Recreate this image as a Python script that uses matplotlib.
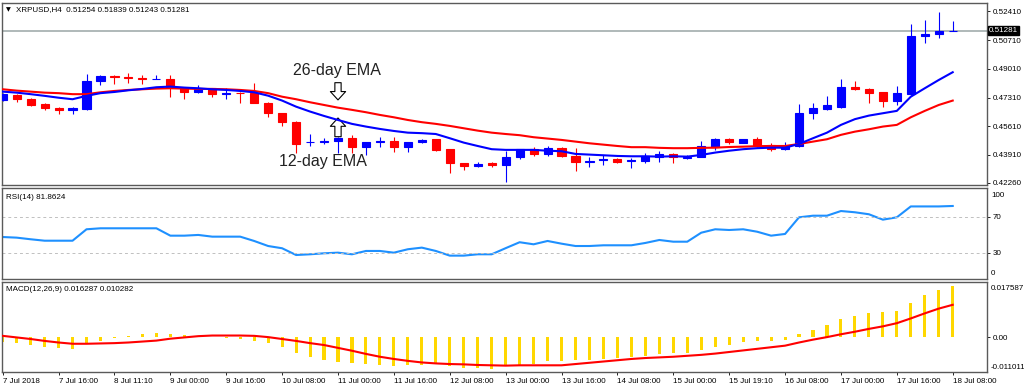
import matplotlib.pyplot as plt
from matplotlib.transforms import blended_transform_factory

plt.rcParams['font.family'] = ['Liberation Sans', 'DejaVu Sans']

# XRPUSD H4 candles (7 Jul 2018 -> 18 Jul 08:00)
opens = [0.4717, 0.4746, 0.4721, 0.4693, 0.4668, 0.4658, 0.4662, 0.4829, 0.4856, 0.4851,
         0.4845, 0.4839, 0.4840, 0.4786, 0.4762, 0.4786, 0.4753, 0.4759, 0.4756, 0.4697,
         0.4638, 0.4588, 0.4467, 0.4468, 0.4476, 0.4490, 0.4440, 0.4469, 0.4474, 0.4440,
         0.4466, 0.4484, 0.4425, 0.4342, 0.4326, 0.4346, 0.4332, 0.4377, 0.4425, 0.4395,
         0.4431, 0.4385, 0.4352, 0.4360, 0.4367, 0.4355, 0.4358, 0.4377, 0.4397, 0.4375,
         0.4381, 0.4440, 0.4486, 0.4464, 0.4488, 0.4450, 0.4427, 0.4446, 0.4638, 0.4664,
         0.4677, 0.4792, 0.4782, 0.4762, 0.4713, 0.4752, 0.5098, 0.5106, 0.51254]
highs = [0.4756, 0.4750, 0.4727, 0.4701, 0.4677, 0.4677, 0.4871, 0.4865, 0.4865, 0.4875,
         0.4865, 0.4865, 0.4865, 0.4790, 0.4806, 0.4790, 0.4786, 0.4764, 0.4816, 0.4703,
         0.4642, 0.4592, 0.4515, 0.4490, 0.4496, 0.4509, 0.4470, 0.4500, 0.4496, 0.4468,
         0.4488, 0.4488, 0.4429, 0.4346, 0.4350, 0.4352, 0.4417, 0.4429, 0.4440, 0.4443,
         0.4440, 0.4431, 0.4377, 0.4391, 0.4371, 0.4371, 0.4405, 0.4415, 0.4405, 0.4391,
         0.4474, 0.4490, 0.4492, 0.4488, 0.4500, 0.4460, 0.4470, 0.4693, 0.4697, 0.4740,
         0.4839, 0.4829, 0.4786, 0.4766, 0.4800, 0.5167, 0.5191, 0.5240, 0.51839]
lows = [0.4711, 0.4707, 0.4681, 0.4658, 0.4632, 0.4634, 0.4658, 0.4806, 0.4811, 0.4816,
        0.4811, 0.4839, 0.4733, 0.4721, 0.4756, 0.4733, 0.4723, 0.4701, 0.4699, 0.4614,
        0.4565, 0.4405, 0.4444, 0.4456, 0.4400, 0.4405, 0.4393, 0.4437, 0.4411, 0.4407,
        0.4460, 0.4417, 0.4286, 0.4302, 0.4318, 0.4320, 0.4233, 0.4366, 0.4385, 0.4385,
        0.4379, 0.4298, 0.4322, 0.4332, 0.4342, 0.4312, 0.4346, 0.4351, 0.4346, 0.4366,
        0.4377, 0.4421, 0.4458, 0.4460, 0.4440, 0.4416, 0.4421, 0.4440, 0.4602, 0.4658,
        0.4671, 0.4778, 0.4697, 0.4677, 0.4687, 0.4746, 0.5053, 0.5082, 0.51243]
closes = [0.4750, 0.4721, 0.4687, 0.4668, 0.4658, 0.4668, 0.4829, 0.4859, 0.4853, 0.4847,
          0.4841, 0.4842, 0.4792, 0.4766, 0.4780, 0.4752, 0.4757, 0.4755, 0.4701, 0.4641,
          0.4588, 0.4456, 0.4470, 0.4474, 0.4490, 0.4437, 0.4466, 0.4474, 0.4440, 0.4466,
          0.4480, 0.4421, 0.4342, 0.4326, 0.4340, 0.4330, 0.4381, 0.4425, 0.4395, 0.4431,
          0.4385, 0.4348, 0.4358, 0.4366, 0.4348, 0.4360, 0.4385, 0.4395, 0.4377, 0.4381,
          0.4444, 0.4484, 0.4466, 0.4484, 0.4450, 0.4427, 0.4446, 0.4638, 0.4671, 0.4687,
          0.4792, 0.4780, 0.4760, 0.4713, 0.4756, 0.5098, 0.5106, 0.5125, 0.51281]

ema12 = [0.4766, 0.4760, 0.4751, 0.4741, 0.4730, 0.4721, 0.4741, 0.4757, 0.4764, 0.4774,
         0.4782, 0.4792, 0.4796, 0.4790, 0.4786, 0.4780, 0.4776, 0.4770, 0.4762, 0.4742,
         0.4713, 0.4677, 0.4648, 0.4622, 0.4598, 0.4575, 0.4559, 0.4545, 0.4533, 0.4523,
         0.4520, 0.4515, 0.4490, 0.4464, 0.4444, 0.4425, 0.4421, 0.4421, 0.4421, 0.4416,
         0.4413, 0.4397, 0.4393, 0.4389, 0.4385, 0.4383, 0.4383, 0.4381, 0.4383, 0.4381,
         0.4391, 0.4405, 0.4416, 0.4425, 0.4431, 0.4434, 0.4434, 0.4456, 0.4490, 0.4523,
         0.4569, 0.4603, 0.4624, 0.4638, 0.4652, 0.4736, 0.4786, 0.4835, 0.4881]
ema26 = [0.4780, 0.4772, 0.4766, 0.4760, 0.4757, 0.4751, 0.4751, 0.4762, 0.4770, 0.4776,
         0.4780, 0.4784, 0.4786, 0.4784, 0.4782, 0.4782, 0.4780, 0.4776, 0.4770, 0.4757,
         0.4736, 0.4721, 0.4703, 0.4687, 0.4671, 0.4658, 0.4644, 0.4628, 0.4614, 0.4598,
         0.4585, 0.4575, 0.4563, 0.4549, 0.4535, 0.4523, 0.4515, 0.4508, 0.4496, 0.4488,
         0.4480, 0.4470, 0.4460, 0.4452, 0.4444, 0.4437, 0.4437, 0.4433, 0.4431, 0.4431,
         0.4433, 0.4434, 0.4438, 0.4440, 0.4443, 0.4444, 0.4444, 0.4456, 0.4470, 0.4484,
         0.4510, 0.4529, 0.4543, 0.4559, 0.4569, 0.4614, 0.4652, 0.4687, 0.4713]

rsi14 = [47.4, 46.7, 44.9, 43.3, 43.3, 43.3, 56.0, 57.1, 57.1, 57.1,
         57.1, 57.1, 48.9, 48.9, 49.7, 47.8, 47.8, 47.8, 43.0, 37.4,
         34.9, 27.4, 28.2, 29.3, 30.0, 28.2, 31.9, 31.9, 30.0, 33.8,
         35.6, 31.9, 26.7, 26.7, 28.2, 28.2, 35.0, 41.6, 39.3, 43.0,
         40.0, 37.4, 37.4, 38.2, 38.2, 38.2, 40.8, 44.1, 42.2, 42.2,
         52.2, 56.0, 55.2, 56.0, 53.3, 48.9, 50.8, 69.3, 71.1, 71.1,
         76.3, 74.9, 72.7, 66.7, 69.3, 81.4, 81.4, 81.4, 81.9]

macd_hist = [-0.0016, -0.0018, -0.0024, -0.0029, -0.0032, -0.0035, -0.0020, -0.0012, -0.0003, 0.0003,
             0.0011, 0.0014, 0.0011, 0.0009, 0.0006, 0.0002, -0.0002, -0.0004, -0.0010, -0.0018,
             -0.0029, -0.0050, -0.0061, -0.0071, -0.0077, -0.0082, -0.0085, -0.0087, -0.0089, -0.0088,
             -0.0086, -0.0085, -0.0090, -0.0096, -0.0097, -0.0100, -0.0090, -0.0090, -0.0084, -0.0074,
             -0.0073, -0.0071, -0.0071, -0.0068, -0.0065, -0.0063, -0.0058, -0.0052, -0.0050, -0.0048,
             -0.0039, -0.0029, -0.0023, -0.0014, -0.0011, -0.0010, -0.0007, 0.0012, 0.0025, 0.0038,
             0.0059, 0.0069, 0.0078, 0.0081, 0.0083, 0.0110, 0.0133, 0.0150, 0.0163]
macd_signal = [0.0005, 0.0000, -0.0005, -0.0011, -0.0016, -0.0020, -0.0020, -0.0019, -0.0018, -0.0016,
               -0.0013, -0.0010, -0.0004, 0.0000, 0.0004, 0.0006, 0.0006, 0.0006, 0.0005, 0.0001,
               -0.0005, -0.0011, -0.0018, -0.0024, -0.0033, -0.0042, -0.0052, -0.0061, -0.0068, -0.0074,
               -0.0079, -0.0082, -0.0084, -0.0085, -0.0087, -0.0088, -0.0089, -0.0088, -0.0088, -0.0088,
               -0.0088, -0.0084, -0.0080, -0.0076, -0.0072, -0.0068, -0.0065, -0.0063, -0.0061, -0.0058,
               -0.0055, -0.0051, -0.0046, -0.0041, -0.0036, -0.0031, -0.0026, -0.0016, -0.0007, 0.0001,
               0.0010, 0.0018, 0.0027, 0.0035, 0.0045, 0.0060, 0.0076, 0.0091, 0.0103]

time_labels = ["7 Jul 2018", "7 Jul 16:00", "8 Jul 11:10", "9 Jul 00:00", "9 Jul 16:00",
               "10 Jul 08:00", "11 Jul 00:00", "11 Jul 16:00", "12 Jul 08:00", "13 Jul 00:00",
               "13 Jul 16:00", "14 Jul 08:00", "15 Jul 00:00", "15 Jul 19:10", "16 Jul 08:00",
               "17 Jul 00:00", "17 Jul 16:00", "18 Jul 08:00"]
price_ticks = [0.42260, 0.43910, 0.45610, 0.47310, 0.49010, 0.50710, 0.52410]

FRAME = '#5a5a5a'
SMALL = 5.8

fig = plt.figure(figsize=(10.24, 3.91), dpi=100)
ax_p = fig.add_axes([0.00195, 0.5256, 0.962, 0.4667])
ax_r = fig.add_axes([0.00195, 0.2857, 0.962, 0.2335], sharex=ax_p)
ax_m = fig.add_axes([0.00195, 0.0478, 0.962, 0.2317], sharex=ax_p)

xs = list(range(len(closes)))

for ax in (ax_p, ax_r, ax_m):
    for s in ax.spines.values():
        s.set_color(FRAME)
        s.set_linewidth(1.0)
    ax.yaxis.tick_right()
    ax.tick_params(axis='y', length=2.5, width=0.6, pad=1.5, labelsize=SMALL, colors='black')
    ax.tick_params(axis='x', length=0, labelbottom=False)

# --- price panel: candles + EMAs
for i in xs:
    col = '#0000ff' if closes[i] >= opens[i] else '#ff0000'
    ax_p.vlines(i, lows[i], highs[i], color=col, lw=0.8, zorder=2)
    ax_p.bar(i, closes[i] - opens[i], bottom=opens[i], width=0.58, color=col,
             edgecolor=col, linewidth=0.8, zorder=3)

ax_p.plot(xs, ema26, color='#ff0000', lw=1.5, zorder=4)
ax_p.plot(xs, ema12, color='#0000ff', lw=1.5, zorder=4)
ax_p.axhline(closes[-1], color='#9aa6a6', lw=1.1, zorder=1)

ax_p.set_xlim(-0.05, 70.46)
ax_p.set_ylim(0.4210, 0.5291)
ax_p.set_yticks(price_ticks)
ax_p.set_yticklabels([f"{t:.5f}" for t in price_ticks])

tr = blended_transform_factory(ax_p.transAxes, ax_p.transData)
ax_p.text(1.002, closes[-1], f"{closes[-1]:.5f}", transform=tr, color='white', fontsize=SMALL,
          va='center', ha='left', bbox=dict(fc='black', ec='black', pad=0.8), zorder=6,
          clip_on=False)

ax_p.text(0.004, 0.965, "\u25bc", transform=ax_p.transAxes, fontsize=4.5, va='center',
          family='DejaVu Sans')
ax_p.text(0.0145, 0.965, "XRPUSD,H4  0.51254 0.51839 0.51243 0.51281",
          transform=ax_p.transAxes, fontsize=SMALL, va='center')

# EMA annotations
ax_p.text(23.9, 0.4889, "26-day EMA", fontsize=11.5, ha='center', va='center', color='#222222')
ax_p.text(22.9, 0.4355, "12-day EMA", fontsize=11.5, ha='center', va='center', color='#222222')
arrow = dict(arrowstyle='simple,head_length=6,head_width=11,tail_width=4.5',
             fc='white', ec='black', lw=0.8, mutation_scale=1, shrinkA=0, shrinkB=0)
ax_p.annotate("", xy=(24, 0.4717), xytext=(24, 0.4819), arrowprops=arrow)
ax_p.annotate("", xy=(24, 0.4610), xytext=(24, 0.4499), arrowprops=arrow)

# --- RSI panel
ax_r.plot(xs, rsi14, color='#1e90ff', lw=1.5)
for lvl in (70, 30):
    ax_r.axhline(lvl, color='#c0c0c0', lw=0.7, ls=(0, (3, 3)))
ax_r.set_ylim(0.4, 101.9)
ax_r.set_yticks([70, 30])
ax_r.set_yticklabels(["70", "30"])
ax_r.text(1.004, 0.923, "100", transform=ax_r.transAxes, fontsize=SMALL, va='center')
ax_r.text(1.004, 0.058, "0", transform=ax_r.transAxes, fontsize=SMALL, va='center')
ax_r.text(0.0045, 0.9, "RSI(14) 81.8624", transform=ax_r.transAxes, fontsize=SMALL, va='center')

# --- MACD panel
ax_m.bar(xs, macd_hist, width=0.22, color='#ffd700', zorder=2)
ax_m.plot(xs, macd_signal, color='#ff0000', lw=1.5, zorder=3)
ax_m.set_ylim(-0.011011, 0.017587)
ax_m.set_yticks([0.0])
ax_m.set_yticklabels(["0.00"])
ax_m.text(1.004, 0.927, "0.017587", transform=ax_m.transAxes, fontsize=SMALL, va='center')
ax_m.text(1.004, 0.055, "-0.011011", transform=ax_m.transAxes, fontsize=SMALL, va='center')
ax_m.text(0.0045, 0.91, "MACD(12,26,9) 0.016287 0.010282", transform=ax_m.transAxes,
          fontsize=SMALL, va='center')

ax_m.set_xticks(list(range(0, 69, 4)))
ax_m.set_xticklabels(time_labels)
ax_m.tick_params(axis='x', length=2.5, width=0.6, pad=1.5, labelbottom=True, labelsize=SMALL)
for lab in ax_m.get_xticklabels():
    lab.set_horizontalalignment('left')

fig.savefig("out.png", dpi=100)
